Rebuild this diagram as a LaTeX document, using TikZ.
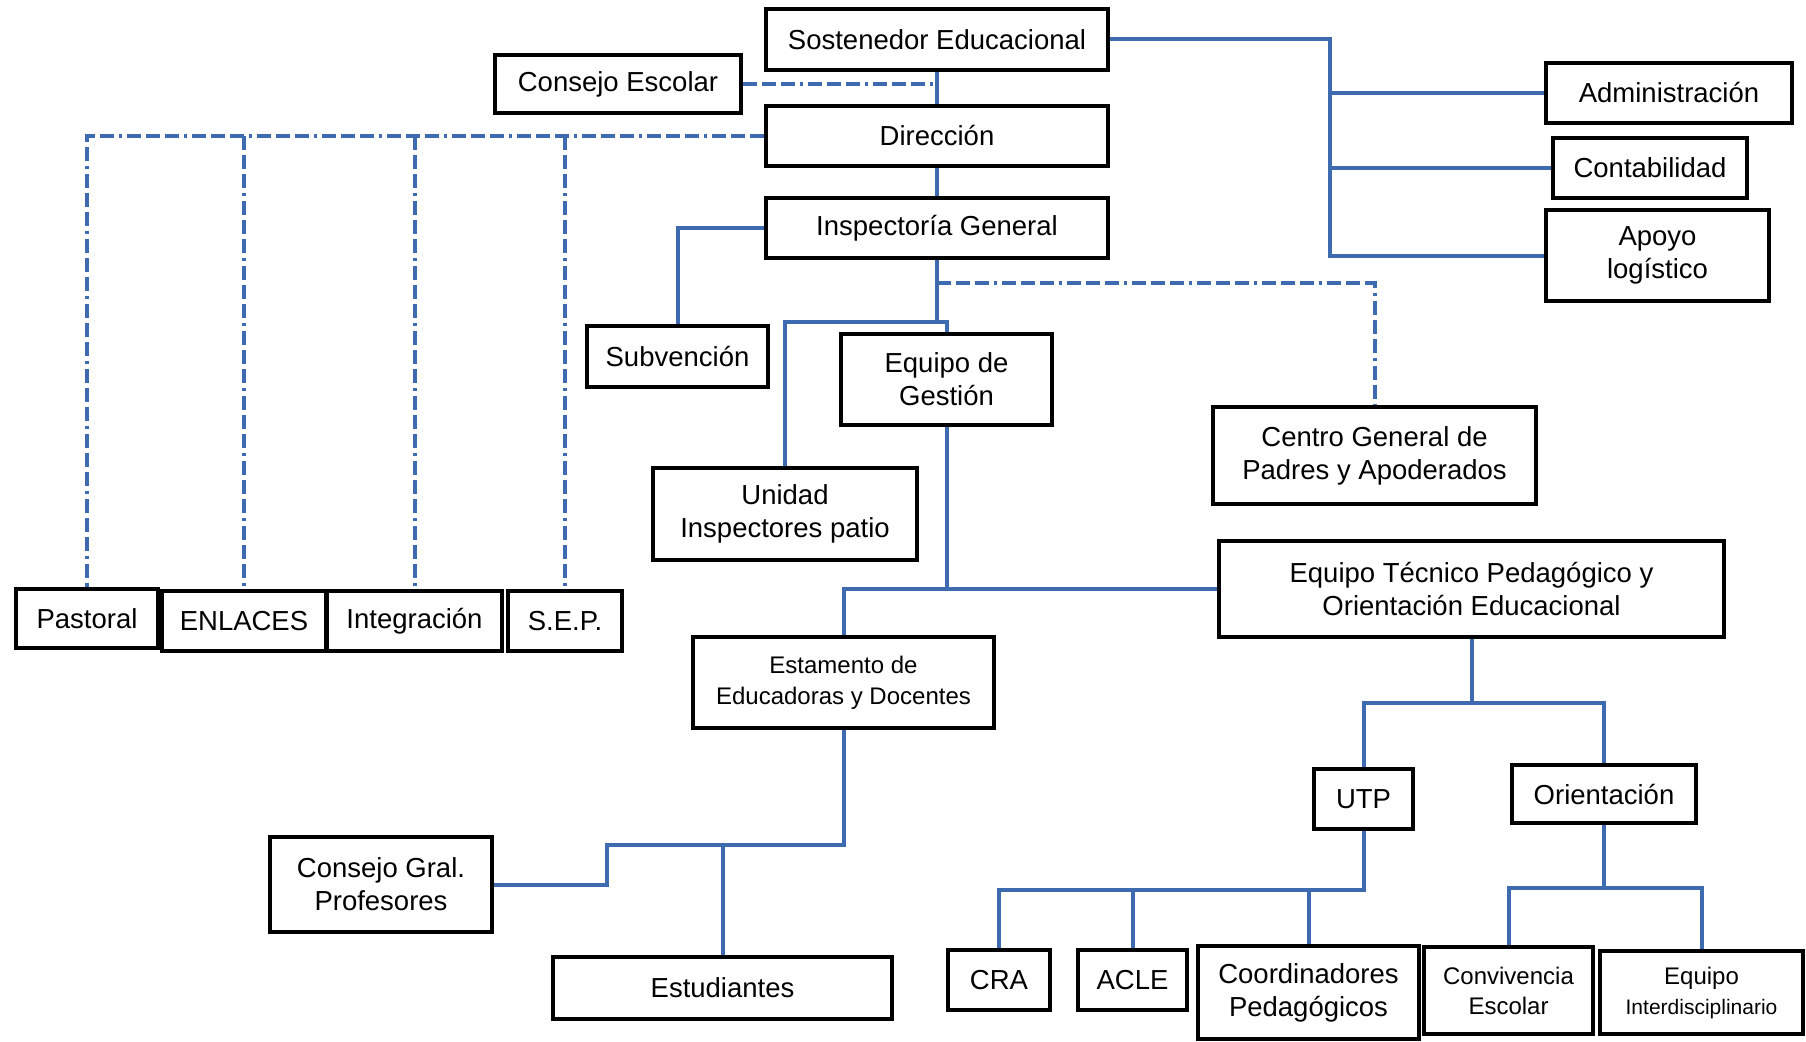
\documentclass[tikz,border=0pt]{standalone}
\usepackage{fontspec}
\setmainfont{Liberation Sans}
\definecolor{lineblue}{RGB}{62,106,176}
\tikzset{
  box/.style={draw=black, line width=3.5pt, fill=white, inner sep=0pt, align=center,
              font=\fontsize{27.5}{33}\selectfont},
  conn/.style={draw=lineblue, line width=4pt},
  dconn/.style={draw=lineblue, line width=4pt, dash pattern=on 14pt off 5pt on 14pt off 5pt on 14pt off 5pt on 3pt off 5pt},
}
\begin{document}
\begin{tikzpicture}[x=1pt,y=-1pt]
\useasboundingbox[fill=white] (0,0) rectangle (1806,1041);

\coordinate (tr) at (1330,39.5);
\coordinate (trb) at (1330,255.5);
\coordinate (j1) at (937,322);
\coordinate (j2) at (937,283);
\coordinate (j4) at (1471.5,703);
\coordinate (j5) at (1363.5,890);
\coordinate (j6) at (1604,888);
\coordinate (j7) at (843.5,845);
\coordinate (j8) at (607,845);

% nodes
\node[box, minimum width=342pt, minimum height=61pt] (sost) at (937,39.5) {Sostenedor Educacional};
\node[box, minimum width=246pt, minimum height=58pt] (cesc) at (618,84) {Consejo Escolar};
\node[box, minimum width=342pt, minimum height=60pt] (dir) at (937,136) {Dirección};
\node[box, minimum width=342pt, minimum height=60pt] (insp) at (937,228) {Inspectoría General};
\node[box, minimum width=246pt, minimum height=60pt] (adm) at (1669,93) {Administración};
\node[box, minimum width=194pt, minimum height=60pt] (cont) at (1650,168) {Contabilidad};
\node[box, minimum width=223pt, minimum height=91pt] (apoyo) at (1657.5,255.5) {Apoyo\\logístico};
\node[box, minimum width=181pt, minimum height=61pt] (subv) at (677.5,356.5) {Subvención};
\node[box, minimum width=211pt, minimum height=91pt] (eqg) at (946.5,379.5) {Equipo de\\Gestión};
\node[box, minimum width=264pt, minimum height=92pt] (unid) at (785,514) {Unidad\\Inspectores patio};
\node[box, minimum width=323pt, minimum height=97pt] (centro) at (1374.5,455.5) {Centro General de\\Padres y Apoderados};
\node[box, minimum width=505pt, minimum height=96pt] (etp) at (1471.5,589) {Equipo Técnico Pedagógico y\\Orientación Educacional};
\node[box, minimum width=142pt, minimum height=59pt] (past) at (87,618.5) {Pastoral};
\node[box, minimum width=164pt, minimum height=60pt] (enl) at (244,621) {ENLACES};
\node[box, minimum width=175pt, minimum height=60pt] (integ) at (414.5,621) {Integración};
\node[box, minimum width=114pt, minimum height=60pt] (sep) at (565,621) {S.E.P.};
\node[box, minimum width=301pt, minimum height=91pt, font=\fontsize{24}{31}\selectfont] (estam) at (843.5,682.5) {Estamento de\\Educadoras y Docentes};
\node[box, minimum width=99pt, minimum height=60pt] (utp) at (1363.5,799) {UTP};
\node[box, minimum width=184pt, minimum height=58pt] (orient) at (1604,794) {Orientación};
\node[box, minimum width=222pt, minimum height=95pt] (cgral) at (381,884.5) {Consejo Gral.\\Profesores};
\node[box, minimum width=339pt, minimum height=62pt] (estud) at (722.5,988) {Estudiantes};
\node[box, minimum width=102pt, minimum height=60pt] (cra) at (999,980) {CRA};
\node[box, minimum width=109pt, minimum height=60pt] (acle) at (1132.5,980) {ACLE};
\node[box, minimum width=221pt, minimum height=93pt] (coord) at (1308.5,992.5) {Coordinadores\\Pedagógicos};
\node[box, minimum width=169pt, minimum height=87pt, font=\fontsize{24}{30}\selectfont] (conv) at (1508.5,990.5) {Convivencia\\Escolar};
\node[box, minimum width=203pt, minimum height=83pt, font=\fontsize{24}{30}\selectfont] (eqi) at (1701.5,992.5) {Equipo\\{\fontsize{21}{26}\selectfont Interdisciplinario}};

% solid connectors
\draw[conn] (sost.east) -- (tr) -- (trb) -- (apoyo.west);
\draw[conn] (tr |- adm.west) -- (adm.west);
\draw[conn] (tr |- cont.west) -- (cont.west);
\draw[conn] (sost.south) -- (dir.north);
\draw[conn] (dir.south) -- (insp.north);
\draw[conn] (insp.west) -| (subv.north);
\draw[conn] (insp.south) -- (j1) -| (unid.north);
\draw[conn] (j1) -| (eqg.north);
\draw[conn] (eqg.south) -- (eqg.south |- etp.west) -- (etp.west);
\draw[conn] (eqg.south |- etp.west) -| (estam.north);
\draw[conn] (etp.south) -- (j4);
\draw[conn] (utp.north) |- (j4) -| (orient.north);
\draw[conn] (utp.south) -- (j5) -| (cra.north);
\draw[conn] (acle.north |- j5) -- (acle.north);
\draw[conn] (coord.north |- j5) -- (coord.north);
\draw[conn] (orient.south) -- (j6);
\draw[conn] (conv.north) |- (j6) -| (eqi.north);
\draw[conn] (estam.south) -- (j7) -- (j8) |- (cgral.east);
\draw[conn] (estud.north |- j7) -- (estud.north);

% dash-dot connectors
\draw[dconn] (cesc.east) -- (cesc.east -| dir.north);
\draw[dconn] (dir.west) -| (past.north);
\draw[dconn] (enl.north |- dir.west) -- (enl.north);
\draw[dconn] (integ.north |- dir.west) -- (integ.north);
\draw[dconn] (sep.north |- dir.west) -- (sep.north);
\draw[dconn] (j2) -| (centro.north);
\end{tikzpicture}
\end{document}
